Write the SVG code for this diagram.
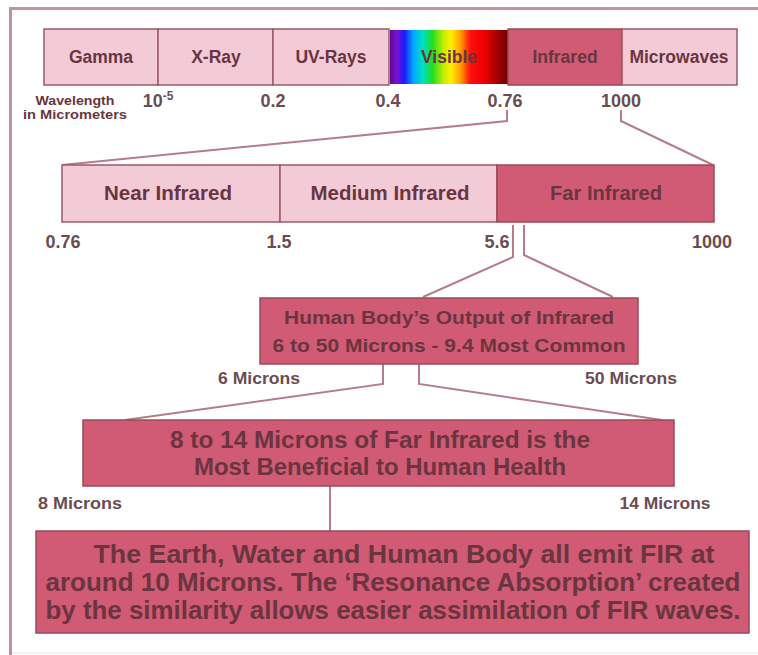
<svg xmlns="http://www.w3.org/2000/svg" width="758" height="655" viewBox="0 0 758 655">
<defs>
<linearGradient id="spec" x1="0" x2="1" y1="0" y2="0">
<stop offset="0" stop-color="#5a0a8a"/>
<stop offset="0.06" stop-color="#7a10d8"/>
<stop offset="0.12" stop-color="#1a1aff"/>
<stop offset="0.2" stop-color="#00aaff"/>
<stop offset="0.28" stop-color="#00e0c0"/>
<stop offset="0.36" stop-color="#22dd22"/>
<stop offset="0.46" stop-color="#ccee00"/>
<stop offset="0.52" stop-color="#ffee00"/>
<stop offset="0.6" stop-color="#ff9900"/>
<stop offset="0.68" stop-color="#ff1010"/>
<stop offset="0.8" stop-color="#ee0000"/>
<stop offset="0.9" stop-color="#aa0000"/>
<stop offset="1" stop-color="#700000"/>
</linearGradient>
</defs>
<style>
.lt{fill:#f3cbd6;stroke:#9a5a66;stroke-width:1.5}
.dk{fill:#d15a75;stroke:#9a4a5a;stroke-width:1.5}
.t{font-family:"Liberation Sans",Arial,sans-serif;font-weight:bold;fill:#6a3540;text-anchor:middle}
.n{font-family:"Liberation Sans",Arial,sans-serif;font-weight:bold;fill:#6a4c52;text-anchor:middle;font-size:18px}
.s{font-family:"Liberation Sans",Arial,sans-serif;font-weight:bold;fill:#6a4c52;text-anchor:middle;font-size:16px}
.c{fill:none;stroke:#b57d88;stroke-width:2}
</style>
<rect width="758" height="655" fill="#ffffff"/>
<path d="M10.5,655 V8.5 H758" fill="none" stroke="#bf939b" stroke-width="3"/>
<line x1="12" y1="653" x2="758" y2="653" stroke="#e4e4e4" stroke-width="1"/>

<g id="connectors">
<path class="c" d="M507,110 V121 L62,165"/>
<path class="c" d="M621,110 V121 L713,165"/>
<path class="c" d="M513,225 V257 L423,297"/>
<path class="c" d="M524,225 V255 L613,297"/>
<path class="c" d="M383,364 V384 L125,420"/>
<path class="c" d="M419,364 V384 L662,420"/>
<path class="c" d="M330,486 V531"/>
</g>

<g id="spectrum">
<rect class="lt" x="44" y="29" width="114" height="56"/>
<text class="t" x="101" y="63" font-size="17.5">Gamma</text>
<rect class="lt" x="158" y="29" width="115" height="56"/>
<text class="t" x="216" y="63" font-size="17.5">X-Ray</text>
<rect class="lt" x="273" y="29" width="116" height="56"/>
<text class="t" x="331" y="63" font-size="17.5">UV-Rays</text>
<rect x="390" y="30" width="118" height="54" fill="url(#spec)"/>
<text class="t" x="449" y="63" font-size="17.5">Visible</text>
<rect class="dk" x="508" y="29" width="114" height="56"/>
<text class="t" x="565" y="63" font-size="17.5">Infrared</text>
<rect class="lt" x="622" y="29" width="115" height="56"/>
<text class="t" x="679" y="63" font-size="17.5">Microwaves</text>
</g>

<g id="spectrum-labels">
<text class="t" x="75" y="105" font-size="13" textLength="79" lengthAdjust="spacingAndGlyphs">Wavelength</text>
<text class="t" x="75" y="119" font-size="13" textLength="104" lengthAdjust="spacingAndGlyphs">in Micrometers</text>
<text class="n" x="158" y="107">10<tspan font-size="12" dy="-7">-5</tspan></text>
<text class="n" x="273" y="107">0.2</text>
<text class="n" x="388" y="107">0.4</text>
<text class="n" x="505" y="107">0.76</text>
<text class="n" x="621" y="107">1000</text>
</g>

<g id="infrared-bands">
<rect class="lt" x="62" y="165" width="218" height="57"/>
<text class="t" x="168" y="200" font-size="20" textLength="128" lengthAdjust="spacingAndGlyphs">Near Infrared</text>
<rect class="lt" x="280" y="165" width="217" height="57"/>
<text class="t" x="390" y="200" font-size="20" textLength="159" lengthAdjust="spacingAndGlyphs">Medium Infrared</text>
<rect class="dk" x="497" y="165" width="217" height="57"/>
<text class="t" x="606" y="200" font-size="20" textLength="112" lengthAdjust="spacingAndGlyphs">Far Infrared</text>
</g>

<g id="band-labels">
<text class="n" x="63" y="248">0.76</text>
<text class="n" x="279" y="248">1.5</text>
<text class="n" x="497" y="248">5.6</text>
<text class="n" x="712" y="248">1000</text>
</g>

<g id="human-body">
<rect class="dk" x="260" y="298" width="378" height="66"/>
<text class="t" x="449" y="324" font-size="17.5" textLength="330" lengthAdjust="spacingAndGlyphs">Human Body’s Output of Infrared</text>
<text class="t" x="449" y="352" font-size="17.5" textLength="353" lengthAdjust="spacingAndGlyphs">6 to 50 Microns - 9.4 Most Common</text>
</g>
<text class="s" x="259" y="384" textLength="82" lengthAdjust="spacingAndGlyphs">6 Microns</text>
<text class="s" x="631" y="384" textLength="92" lengthAdjust="spacingAndGlyphs">50 Microns</text>

<g id="beneficial">
<rect class="dk" x="83" y="420" width="591" height="66"/>
<text class="t" x="380" y="448" font-size="23" textLength="420" lengthAdjust="spacingAndGlyphs">8 to 14 Microns of Far Infrared is the</text>
<text class="t" x="380" y="475" font-size="23" textLength="372" lengthAdjust="spacingAndGlyphs">Most Beneficial to Human Health</text>
</g>
<text class="s" x="80" y="509" textLength="84" lengthAdjust="spacingAndGlyphs">8 Microns</text>
<text class="s" x="665" y="509" textLength="91" lengthAdjust="spacingAndGlyphs">14 Microns</text>

<g id="resonance">
<rect class="dk" x="36" y="531" width="713" height="102"/>
<text class="t" x="404" y="563" font-size="26" textLength="621" lengthAdjust="spacingAndGlyphs">The Earth, Water and Human Body all emit FIR at</text>
<text class="t" x="393" y="591" font-size="26" textLength="695" lengthAdjust="spacingAndGlyphs">around 10 Microns. The ‘Resonance Absorption’ created</text>
<text class="t" x="393" y="619" font-size="26" textLength="695" lengthAdjust="spacingAndGlyphs">by the similarity allows easier assimilation of FIR waves.</text>
</g>
</svg>
